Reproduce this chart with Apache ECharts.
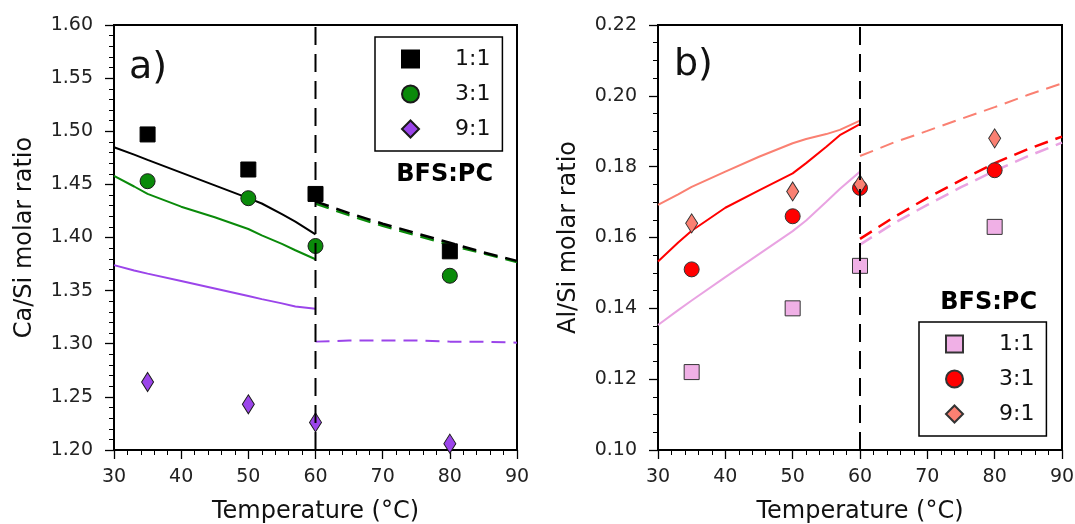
<!DOCTYPE html>
<html>
<head>
<meta charset="utf-8">
<script src="https://cdn.jsdelivr.net/npm/echarts@6/dist/echarts.min.js"></script>
<style>
  html, body { margin: 0; padding: 0; background: #fff; }
  #chart { width: 1075px; height: 524px; }
</style>
</head>
<body>
<div id="chart"></div>
<script>
// ---- Data ----
const xTicks = [30, 40, 50, 60, 70, 80, 90];
const expTemps = [35, 50, 60, 80];
const caSi_11 = [1.497, 1.464, 1.441, 1.387];
const caSi_31 = [1.453, 1.437, 1.392, 1.364];
const caSi_91 = [1.264, 1.243, 1.226, 1.206];
const alSi_11 = [0.122, 0.140, 0.152, 0.163];
const alSi_31 = [0.151, 0.166, 0.174, 0.179];
const alSi_91 = [0.164, 0.173, 0.175, 0.188];

// model curves (solid: up to 60 °C, dashed: from 60 °C)
const modelT_low  = [30, 33, 35, 40, 45, 50, 52, 55, 57, 60];
const modelT_high = [60, 65, 70, 75, 80, 85, 90];
const caModel_11_low  = [1.485, 1.478, 1.473, 1.461, 1.449, 1.437, 1.432, 1.422, 1.415, 1.403];
const caModel_31_low  = [1.458, 1.448, 1.441, 1.429, 1.419, 1.408, 1.402, 1.394, 1.388, 1.3795];
const caModel_91_low  = [1.374, 1.369, 1.366, 1.359, 1.352, 1.345, 1.342, 1.338, 1.335, 1.333];
const caModel_11_high = [1.434, 1.423, 1.413, 1.404, 1.395, 1.386, 1.378];
const caModel_31_high = [1.432, 1.421, 1.411, 1.402, 1.393, 1.385, 1.377];
const caModel_91_high = [1.302, 1.303, 1.303, 1.303, 1.302, 1.302, 1.301];

const alModel_11_low  = [0.1353, 0.1395, 0.1422, 0.1488, 0.1553, 0.1618, 0.1648, 0.1701, 0.1737, 0.1786];
const alModel_31_low  = [0.1532, 0.1586, 0.1619, 0.1684, 0.1733, 0.1781, 0.1810, 0.1856, 0.1889, 0.1920];
const alModel_91_low  = [0.1692, 0.1722, 0.1743, 0.1786, 0.1828, 0.1866, 0.1878, 0.1892, 0.1904, 0.1930];
const alModel_11_high = [0.1580, 0.1640, 0.1692, 0.1742, 0.1788, 0.1830, 0.1868];
const alModel_31_high = [0.1596, 0.1657, 0.1712, 0.1762, 0.1810, 0.1850, 0.1885];
const alModel_91_high = [0.1830, 0.1868, 0.1901, 0.1935, 0.1968, 0.2003, 0.2035];

const legendLabels = ['1:1', '3:1', '9:1'];
const transitionT = 60;
const caRange = [1.20, 1.60];
const alRange = [0.10, 0.22];

// ---- Helpers ----
const FONT = 'DejaVu Sans';
const pairs = (xs, ys) => xs.map((x, i) => [x, ys[i]]);

const C = {
  black: '#000000', green: '#0a8a0a', purple: '#9b45ea',
  pink: '#f0b0e6', pinkLine: '#e9a3e2', red: '#ff0000', salmon: '#fa8072'
};

function lineSeries(name, idx, xs, ys, color, dashed, width) {
  return {
    name, type: 'line', xAxisIndex: idx, yAxisIndex: idx,
    data: pairs(xs, ys), symbol: 'none', smooth: false, silent: true,
    lineStyle: { color, width: width || 2, type: dashed ? [14, 8] : 'solid' },
    z: 2
  };
}
function scatterSeries(name, idx, ys, symbol, size, fill, border) {
  return {
    name, type: 'scatter', xAxisIndex: idx, yAxisIndex: idx,
    data: pairs(expTemps, ys), symbol, symbolSize: size,
    itemStyle: { color: fill, borderColor: border, borderWidth: 1, opacity: 1 },
    z: 4
  };
}
function vline(idx, range) {
  return {
    name: 'v' + idx, type: 'line', xAxisIndex: idx, yAxisIndex: idx,
    data: [[transitionT, range[0]], [transitionT, range[1]]],
    symbol: 'none', silent: true,
    lineStyle: { color: '#000', width: 2, type: [18, 9] }, z: 6
  };
}
function xAxisCfg(idx) {
  return {
    type: 'value', gridIndex: idx, min: xTicks[0], max: xTicks[xTicks.length - 1], interval: 10,
    name: 'Temperature (°C)', nameLocation: 'middle', nameGap: 48,
    nameTextStyle: { fontFamily: FONT, fontSize: 24, color: '#111', lineHeight: 28 },
    axisLine: { show: true, lineStyle: { color: '#000', width: 2 } },
    axisTick: { show: true, inside: false, length: 9, lineStyle: { color: '#000', width: 1.3 } },
    minorTick: { show: true, splitNumber: 5, length: 5, lineStyle: { color: '#000', width: 1 } },
    axisLabel: { fontFamily: FONT, fontSize: 19, color: '#222', margin: 18 },
    splitLine: { show: false }
  };
}
function yAxisCfg(idx, name, range, interval, minorSplit) {
  return {
    type: 'value', gridIndex: idx, min: range[0], max: range[1], interval,
    name, nameLocation: 'middle', nameGap: 75,
    nameTextStyle: { fontFamily: FONT, fontSize: 24, color: '#111', lineHeight: 28 },
    axisLine: { show: true, lineStyle: { color: '#000', width: 2 } },
    axisTick: { show: true, inside: false, length: 9, lineStyle: { color: '#000', width: 1.3 } },
    minorTick: { show: true, splitNumber: minorSplit, length: 5, lineStyle: { color: '#000', width: 1 } },
    axisLabel: { fontFamily: FONT, fontSize: 19, color: '#222', margin: 21,
                 formatter: v => v.toFixed(2) },
    splitLine: { show: false }
  };
}
function legendCfg(prefix, left, top) {
  return {
    data: legendLabels.map(l => prefix + l),
    formatter: n => n.slice(prefix.length),
    orient: 'vertical', left, top,
    itemWidth: 17, itemHeight: 17, itemGap: 9,
    padding: [9, 12, 9, 26],
    borderColor: '#000', borderWidth: 1.5, backgroundColor: '#fff',
    selectedMode: false,
    textStyle: { fontFamily: FONT, fontSize: 22, color: '#111', lineHeight: 26, padding: [0, 0, 0, 31] }
  };
}

const series = [
  // panel a
  lineSeries('a m11', 0, modelT_low, caModel_11_low, C.black, false),
  lineSeries('a m31', 0, modelT_low, caModel_31_low, C.green, false),
  lineSeries('a m91', 0, modelT_low, caModel_91_low, C.purple, false),
  lineSeries('a d31', 0, modelT_high, caModel_31_high, C.green, true, 2.5),
  lineSeries('a d11', 0, modelT_high, caModel_11_high, C.black, true, 2.5),
  lineSeries('a d91', 0, modelT_high, caModel_91_high, C.purple, true, 2),
  scatterSeries('a 1:1', 0, caSi_11, 'rect', 15, '#000', '#000'),
  scatterSeries('a 3:1', 0, caSi_31, 'circle', 15, '#0a8a0a', '#1a1a1a'),
  scatterSeries('a 9:1', 0, caSi_91, 'diamond', [12, 19], C.purple, '#1a1a1a'),
  vline(0, caRange),
  // panel b
  lineSeries('b m11', 1, modelT_low, alModel_11_low, C.pinkLine, false),
  lineSeries('b m91', 1, modelT_low, alModel_91_low, C.salmon, false),
  lineSeries('b m31', 1, modelT_low, alModel_31_low, C.red, false),
  lineSeries('b d11', 1, modelT_high, alModel_11_high, C.pinkLine, true, 2.5),
  lineSeries('b d31', 1, modelT_high, alModel_31_high, C.red, true, 2.5),
  lineSeries('b d91', 1, modelT_high, alModel_91_high, C.salmon, true, 2),
  scatterSeries('b 1:1', 1, alSi_11, 'rect', 15, C.pink, '#333'),
  scatterSeries('b 3:1', 1, alSi_31, 'circle', 15, C.red, '#333'),
  scatterSeries('b 9:1', 1, alSi_91, 'diamond', [12, 19], C.salmon, '#333'),
  vline(1, alRange)
];

const chart = echarts.init(document.getElementById('chart'), null, { renderer: 'canvas' });
chart.setOption({
  animation: false,
  backgroundColor: '#fff',
  grid: [
    { left: 114, top: 25, width: 403, height: 425, show: true, borderColor: '#000', borderWidth: 2,
      backgroundColor: 'transparent', containLabel: false, outerBoundsMode: 'none' },
    { left: 658, top: 25, width: 404, height: 425, show: true, borderColor: '#000', borderWidth: 2,
      backgroundColor: 'transparent', containLabel: false, outerBoundsMode: 'none' }
  ],
  xAxis: [xAxisCfg(0), xAxisCfg(1)],
  yAxis: [
    yAxisCfg(0, 'Ca/Si molar ratio', caRange, 0.05, 5),
    yAxisCfg(1, 'Al/Si molar ratio', alRange, 0.02, 4)
  ],
  legend: [legendCfg('a ', 375, 37), legendCfg('b ', 919, 322)],
  graphic: [
    { type: 'text', left: 129, top: 49, style: { text: 'a)', font: '38px "DejaVu Sans"', fill: '#111' }, z: 10 },
    { type: 'text', left: 674, top: 46, style: { text: 'b)', font: '38px "DejaVu Sans"', fill: '#111' }, z: 10 },
    { type: 'text', right: 1075 - 493, top: 163, style: { text: 'BFS:PC', font: 'bold 24px "DejaVu Sans"', fill: '#000' }, z: 10 },
    { type: 'text', right: 1075 - 1037, top: 291, style: { text: 'BFS:PC', font: 'bold 24px "DejaVu Sans"', fill: '#000' }, z: 10 }
  ],
  series
});
</script>
</body>
</html>
